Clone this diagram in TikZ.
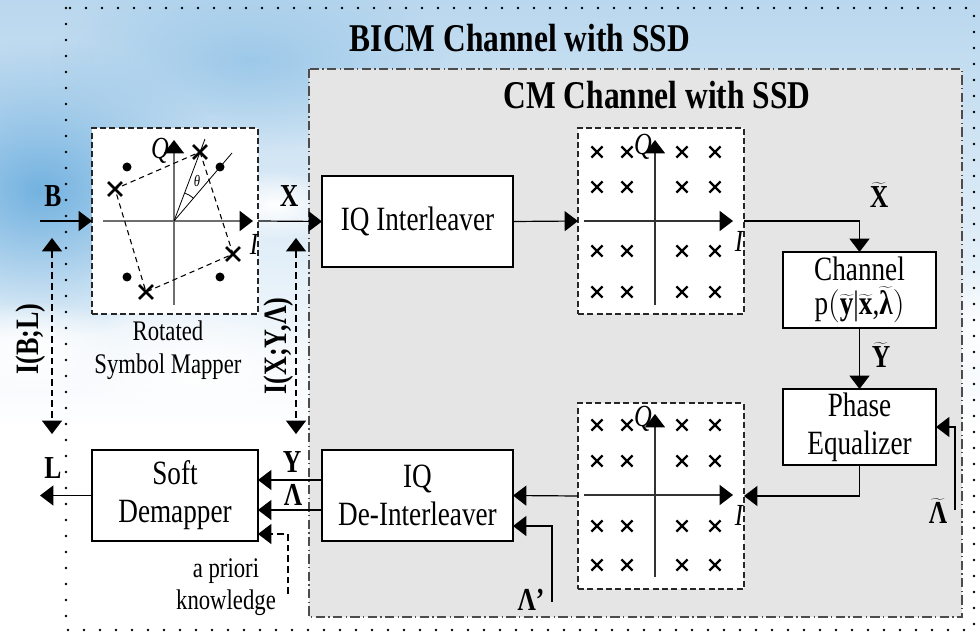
\documentclass[tikz,border=0pt]{standalone}
\usepackage[no-math]{fontspec}
\setmainfont[FakeStretch=0.8]{Liberation Serif}
\usetikzlibrary{arrows.meta,shapes.misc,fadings}

% tilde over a text glyph
\newcommand\tl[1]{\ensuremath{\widetilde{\mbox{#1}}}}

\definecolor{skytop}{RGB}{185,215,238}
\definecolor{skydeep}{RGB}{115,178,224}
\definecolor{panel}{RGB}{229,229,229}
\definecolor{axisgray}{RGB}{110,110,110}

% radial soft-edged blob
\tikzfading[name=softblob, inner color=transparent!0, outer color=transparent!100]

\tikzset{
  >={Triangle[length=10pt,width=15pt]},
  txt/.style={font=\fontsize{25.5}{28.5}\selectfont, align=center},
  small/.style={font=\fontsize{21.3}{24.5}\selectfont, align=center},
  lbl/.style={font=\fontsize{24}{26}\selectfont\bfseries},
  rlbl/.style={font=\fontsize{24.5}{26}\selectfont\bfseries, rotate=90},
  ttl/.style={font=\fontsize{29.5}{32}\selectfont\bfseries},
  axlbl/.style={font=\fontsize{23}{24}\selectfont\itshape},
  box/.style={draw, fill=white, line width=0.9pt, inner sep=0pt, outer sep=0pt},
  cbox/.style={draw=black!85, fill=white, line width=0.8pt,
    dash pattern=on 4.5pt off 2.5pt, inner sep=0pt, outer sep=0pt,
    minimum width=124.5pt, minimum height=139.5pt},
  arr/.style={line width=0.9pt, ->},
  darr/.style={line width=0.9pt, dash pattern=on 5pt off 3pt, <->},
  axis/.style={line width=0.9pt, draw=black!80, -{Triangle[length=10pt,width=15pt,color=black]}},
  gaxis/.style={line width=1.4pt, draw=axisgray, -{Triangle[length=10pt,width=15pt,color=black]}},
  xm/.style={cross out, draw, line width=1.8pt, minimum size=6.5pt, inner sep=0pt},
  bx/.style={cross out, draw, line width=1.9pt, minimum size=8.5pt, inner sep=0pt},
  blob/.style={path fading=softblob},
}

\begin{document}
\begin{tikzpicture}[x=0.75pt,y=-0.75pt]
\useasboundingbox (0,0) rectangle (980,634);

% sky backdrop
\fill[white] (0,0) rectangle (980,634);
\shade[top color=skytop, bottom color=white] (0,0) rectangle (980,430);
\fill[skydeep, blob] (40,190) ellipse [x radius=190, y radius=150];
\fill[skydeep!70, blob] (250,60) ellipse [x radius=200, y radius=90];
\fill[white, blob] (275,205) ellipse [x radius=70, y radius=35];
\fill[white, blob] (200,370) ellipse [x radius=130, y radius=60];
\fill[white, blob] (30,350) ellipse [x radius=90, y radius=50];
\fill[white, blob] (975,330) ellipse [x radius=30, y radius=60];

% outer dotted frame and inner grey panel
\draw[line width=2pt, line cap=round, dash pattern=on 0pt off 12pt] (66,8) rectangle (974,630);
\draw[draw=black!70, fill=panel, line width=0.8pt, dash pattern=on 7pt off 2.5pt on 1pt off 2.5pt]
  (309,69) rectangle (962,617);

\node[ttl] (bicm) at (520,38) {BICM Channel with SSD};
\node[ttl] (cm) at (657,95) {CM Channel with SSD};

% rotated symbol mapper
\node[cbox] (map) at (175,221) {};
\draw[gaxis] (103,221) -- (253,221);
\draw[gaxis] (174,305) -- (174,140);
\draw[line width=0.8pt, dash pattern=on 4pt off 3pt] (200,152) -- (233,254) -- (146,292) -- (115,189) -- cycle;
\draw[line width=0.6pt] (174,221) -- (205,139);
\draw[line width=0.6pt] (174,221) -- (232,153);
\draw[line width=0.6pt] (174,221) ++(-49.6:30) arc[start angle=-49.6, end angle=-69.4, radius=30];
\node[font=\fontsize{12}{14}\selectfont\itshape] (th) at (197,181) {θ};
\foreach \p/\n in {{(200,152)}/1,{(115,189)}/2,{(233,254)}/3,{(146,292)}/4}
  \node[bx] (mx\n) at \p {};
\foreach \p in {(127,167),(220,167),(127,277),(220,277)}
  \fill \p circle[radius=4.5];
\node[axlbl] (mq) at (160,151) {Q};
\node[axlbl] (mi) at (254,244) {I};
\node[small] (maplbl) at (168,350) {Rotated\\Symbol Mapper};

% upper constellation
\node[cbox] (ct) at (661,221) {};
\draw[axis] (584,221) -- (733,221);
\draw[axis] (655,305) -- (655,140);
\foreach \x in {597,627,682,715}
  \foreach \y in {152,187,251,292}
    \node[xm] (t-\x-\y) at (\x,\y) {};
\node[axlbl] (tq) at (643,147) {Q};
\node[axlbl] (ti) at (739,241) {I};

% lower constellation
\node[cbox] (cb) at (661,496) {};
\draw[axis] (584,495) -- (733,495);
\draw[axis] (655,577) -- (655,414);
\foreach \x in {597,627,682,715}
  \foreach \y in {425,461,526,565}
    \node[xm] (b-\x-\y) at (\x,\y) {};
\node[axlbl] (bq) at (643,419) {Q};
\node[axlbl] (bi) at (739,515) {I};

% processing blocks
\node[box, txt, minimum width=143.25pt, minimum height=68.25pt] (int) at (417.5,221.5) {IQ Interleaver};
\node[box, txt, minimum width=114.75pt, minimum height=57pt] (chan) at (859.5,290)
  {Channel\\[-3pt]p$\Bigl($\tl{\textbf{y}}|\tl{\textbf{x}},\tl{\textbf{λ}}$\Bigr)$};
\node[box, txt, minimum width=114.75pt, minimum height=57pt] (eq) at (859.5,427) {Phase\\Equalizer};
\node[box, txt, minimum width=143.25pt, minimum height=68.25pt] (deint) at (417.5,495.5) {IQ\\De-Interleaver};
\node[box, txt, minimum width=124.5pt, minimum height=68.25pt] (dem) at (175,495.5) {Soft\\Demapper};

% helper coordinates
\coordinate (bin) at (40,221);
\coordinate (lout) at (40,495.5);
\coordinate (lt0) at (955,510);
\coordinate (lp0) at (552,602);
\coordinate (lpy) at (0,526);
\coordinate (ap0) at (288,594);
\coordinate (apy) at (0,534);
\coordinate (yy) at (0,480);
\coordinate (ly) at (0,510);
\coordinate (ib1) at (52,238);
\coordinate (ib2) at (52,434);
\coordinate (ix1) at (296,238);
\coordinate (ix2) at (296,434);

% connectors
\draw[arr] (bin) -- (map.west);
\draw[arr] (map.east) -- (int.west);
\draw[arr] (int.east) -- (ct.west);
\draw[arr] (ct.east) -| (chan.north);
\draw[arr] (chan.south) -- (eq.north);
\draw[arr] (lt0) |- (eq.east);
\draw[arr] (eq.south) |- (cb.east);
\draw[arr] (cb.west) -- (deint.east);
\draw[arr] (lp0) |- (deint.east |- lpy);
\draw[arr] (deint.west |- yy) -- (dem.east |- yy);
\draw[arr] (deint.west |- ly) -- (dem.east |- ly);
\draw[arr, dash pattern=on 5pt off 3pt] (ap0) |- (dem.east |- apy);
\draw[arr] (dem.west) -- (lout);
\draw[darr] (ib1) -- (ib2);
\draw[darr] (ix1) -- (ix2);

% signal labels
\node[lbl] (lb) at (53,196) {B};
\node[lbl] (ll) at (53,468) {L};
\node[lbl] (lx) at (289,196) {X};
\node[lbl] (lyy) at (292,462) {Y};
\node[lbl] (llam) at (293,495) {Λ};
\node[lbl] (lxt) at (879,195) {\tl{\textbf{X}}};
\node[lbl] (lyt) at (881,355) {\tl{\textbf{Y}}};
\node[lbl] (llt) at (938,511) {\tl{\textbf{Λ}}};
\node[lbl] (llp) at (531,600) {Λ’};
\node[rlbl] (ibl) at (31,339) {I(B;L)};
\node[rlbl] (ixy) at (279,346) {I(X;Y,Λ)};
\node[small] (apri) at (226,587) {a priori\\knowledge};
\end{tikzpicture}
\end{document}
